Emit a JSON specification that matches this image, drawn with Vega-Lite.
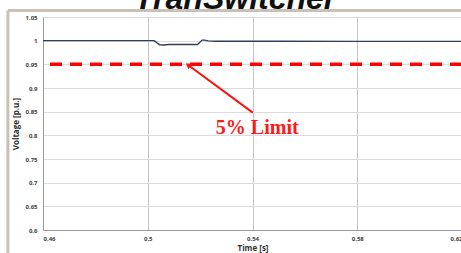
{
  "$schema": "https://vega.github.io/schema/vega-lite/v6.json",
  "autosize": "none",
  "width": 419,
  "height": 213,
  "padding": {"left": 43, "top": 17, "right": 0, "bottom": 23},
  "background": "white",
  "config": {
    "view": {"stroke": null},
    "axis": {"labelFont": "Open Sans", "labelFontWeight": "bold", "labelFontSize": 6, "labelColor": "#404040", "titleFont": "Open Sans", "titleFontWeight": "bold", "titleFontSize": 8, "titleColor": "#303030", "ticks": false, "domainColor": "#9a9a9a", "labelOverlap": false}
  },
  "datasets": {
    "voltage": [
      {"t": 0.46, "v": 1.0},
      {"t": 0.5025, "v": 1.0},
      {"t": 0.5035, "v": 0.9955},
      {"t": 0.5045, "v": 0.9915},
      {"t": 0.506, "v": 0.991},
      {"t": 0.508, "v": 0.9918},
      {"t": 0.512, "v": 0.992},
      {"t": 0.519, "v": 0.992},
      {"t": 0.5198, "v": 0.996},
      {"t": 0.5208, "v": 1.0012},
      {"t": 0.5218, "v": 1.0012},
      {"t": 0.523, "v": 0.9995},
      {"t": 0.526, "v": 0.9988},
      {"t": 0.55, "v": 0.9988},
      {"t": 0.58, "v": 0.9986},
      {"t": 0.62, "v": 0.9986}
    ],
    "arrow": [{"x1": 0.5401, "y1": 0.848, "x2": 0.5154, "y2": 0.9487}],
    "label": [{"t": 0.5418, "v": 0.8158, "text": "5% Limit"}],
    "title": [{"t": 0.5334, "v": 1.0669, "text": "TranSwitcher"}],
    "limit": [{"v": 0.95}],
    "frame": [{"x": 0.4466, "xe": 0.64, "ytop": 1.0637, "ybot": 0.5}]
  },
  "layer": [
    {
      "data": {"name": "voltage"},
      "mark": {"type": "line", "color": "#2f3e5c", "strokeWidth": 1.4},
      "encoding": {
        "x": {"field": "t", "type": "quantitative", "scale": {"domain": [0.46, 0.62], "nice": false, "zero": false},
              "axis": {"values": [0.46, 0.5, 0.54, 0.58, 0.62], "format": "~g", "title": "Time [s]", "grid": true, "gridColor": "#c4c4c4", "labelPadding": 5, "titlePadding": 3, "domain": true}},
        "y": {"field": "v", "type": "quantitative", "scale": {"domain": [0.6, 1.05], "nice": false, "zero": false},
              "axis": {"tickCount": 9, "format": "~g", "title": "Voltage [p.u.]", "grid": true, "gridColor": "#dcdcdc", "labelPadding": 6, "titlePadding": 4, "domain": true, "labelOverlap": false, "labelBound": false}}
      }
    },
    {
      "data": {"name": "frame"},
      "mark": {"type": "rule", "color": "#c9c0b6", "strokeWidth": 3},
      "encoding": {"x": {"field": "x", "type": "quantitative"}, "y": {"field": "ytop", "type": "quantitative"}, "y2": {"field": "ybot"}}
    },
    {
      "data": {"name": "frame"},
      "mark": {"type": "rule", "color": "#c9c0b6", "strokeWidth": 3},
      "encoding": {"y": {"field": "ytop", "type": "quantitative"}, "x": {"field": "x", "type": "quantitative"}, "x2": {"field": "xe"}}
    },
    {
      "data": {"name": "limit"},
      "mark": {"type": "rule", "color": "#ff0000", "strokeWidth": 3.5, "strokeDash": [12, 8]},
      "encoding": {"y": {"field": "v", "type": "quantitative"}}
    },
    {
      "data": {"name": "arrow"},
      "mark": {"type": "rule", "color": "#ff1010", "strokeWidth": 2},
      "encoding": {
        "x": {"field": "x1", "type": "quantitative"},
        "y": {"field": "y1", "type": "quantitative"},
        "x2": {"field": "x2"},
        "y2": {"field": "y2"}
      }
    },
    {
      "data": {"name": "arrow"},
      "mark": {"type": "point", "shape": "triangle-up", "filled": true, "color": "#ff1010", "size": 45, "angle": 306, "opacity": 1},
      "encoding": {
        "x": {"field": "x2", "type": "quantitative"},
        "y": {"field": "y2", "type": "quantitative"}
      }
    },
    {
      "data": {"name": "label"},
      "mark": {"type": "text", "font": "Liberation Serif", "fontWeight": "bold", "fontSize": 20, "color": "#ff1a1a", "align": "center", "baseline": "middle"},
      "encoding": {
        "x": {"field": "t", "type": "quantitative"},
        "y": {"field": "v", "type": "quantitative"},
        "text": {"field": "text"}
      }
    },
    {
      "data": {"name": "title"},
      "mark": {"type": "text", "font": "Liberation Sans", "fontWeight": "bold", "fontStyle": "italic", "fontSize": 32, "color": "#111111", "align": "center", "baseline": "alphabetic"},
      "encoding": {
        "x": {"field": "t", "type": "quantitative"},
        "y": {"field": "v", "type": "quantitative"},
        "text": {"field": "text"}
      }
    }
  ]
}
